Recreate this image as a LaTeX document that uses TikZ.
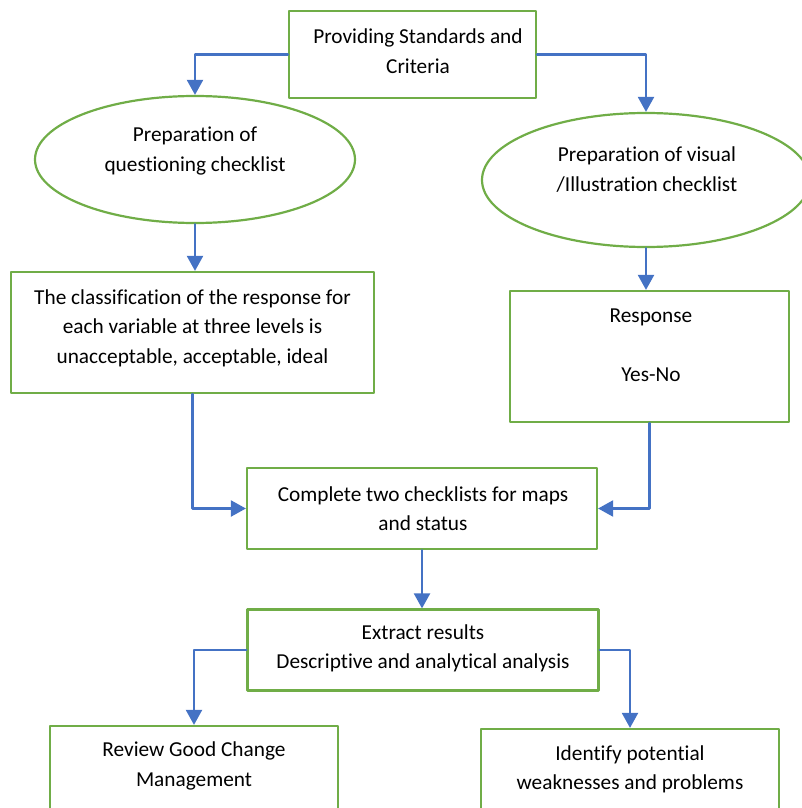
\documentclass[tikz,border=0pt]{standalone}
\usepackage{fontspec}
\setmainfont{Carlito}[Ligatures=NoCommon]
\usetikzlibrary{arrows.meta}
\usetikzlibrary{shapes.geometric}
\definecolor{boxgreen}{RGB}{112,173,71}
\definecolor{arrowblue}{RGB}{68,114,196}
\begin{document}
\begin{tikzpicture}[line cap=round,line join=round,x=1pt,y=-1pt,
  >={Triangle[length=15pt,width=16pt]},
  gbox/.style={draw=boxgreen,line width=2.2pt,rectangle,inner sep=0pt},
  gell/.style={draw=boxgreen,line width=2.2pt,ellipse,inner sep=0pt},
  txt/.style={align=center,inner sep=0pt,font=\fontsize{21.3}{29.5}\selectfont},
  arr/.style={draw=arrowblue,line width=2.2pt,->}]
\useasboundingbox (0,0) rectangle (802,808);
\clip (0,0) rectangle (802,808);
\node[gbox,minimum width=247,minimum height=87] (std) at (412.5,54.5) {};
\node[txt] (std-t) at (418,51) {Providing Standards and\\Criteria};
\node[gell,minimum width=320,minimum height=127] (quest) at (195,159.5) {};
\node[txt] (quest-t) at (195,151) {Preparation of\\questioning checklist};
\node[gell,minimum width=328,minimum height=134] (visual) at (646,180) {};
\node[txt] (visual-t) at (647,169.5) {Preparation of visual\\/Illustration checklist};
\node[gbox,minimum width=363,minimum height=121] (classif) at (192.5,332.5) {};
\node[txt] (classif-t) at (192.5,328) {The classification of the response for\\each variable at three levels is\\unacceptable, acceptable, ideal};
\node[gbox,minimum width=279,minimum height=131] (resp) at (649.5,356.5) {};
\node[txt] (resp-t) at (651,345.5) {Response\\[29.5pt]Yes-No};
\node[gbox,minimum width=350,minimum height=81] (complete) at (422,508.5) {};
\node[txt] (complete-t) at (423,508.5) {Complete two checklists for maps\\and status};
\node[gbox,minimum width=351,minimum height=81] (extract) at (423,650) {};
\node[txt] (extract-t) at (423,648.5) {Extract results\\Descriptive and analytical analysis};
\node[gbox,minimum width=288,minimum height=120] (review) at (194,786) {};
\node[txt] (review-t) at (194,766) {Review Good Change\\Management};
\node[gbox,minimum width=298,minimum height=120] (identify) at (630,789) {};
\node[txt] (identify-t) at (630,769.5) {Identify potential\\weaknesses and problems};
\draw[arr] (std.west) -| (quest.north);
\draw[arr] (std.east) -| (visual.north);
\draw[arr] (quest.south) -- (quest.south |- classif.north);
\draw[arr] (visual.south) -- (visual.south |- resp.north);
\draw[arr] (classif.south) |- (complete.west);
\draw[arr] (resp.south) |- (complete.east);
\draw[arr] (complete.south) -- (complete.south |- extract.north);
\draw[arr] (extract.west) -| (review.north);
\draw[arr] (extract.east) -| (identify.north);
\end{tikzpicture}
\end{document}
